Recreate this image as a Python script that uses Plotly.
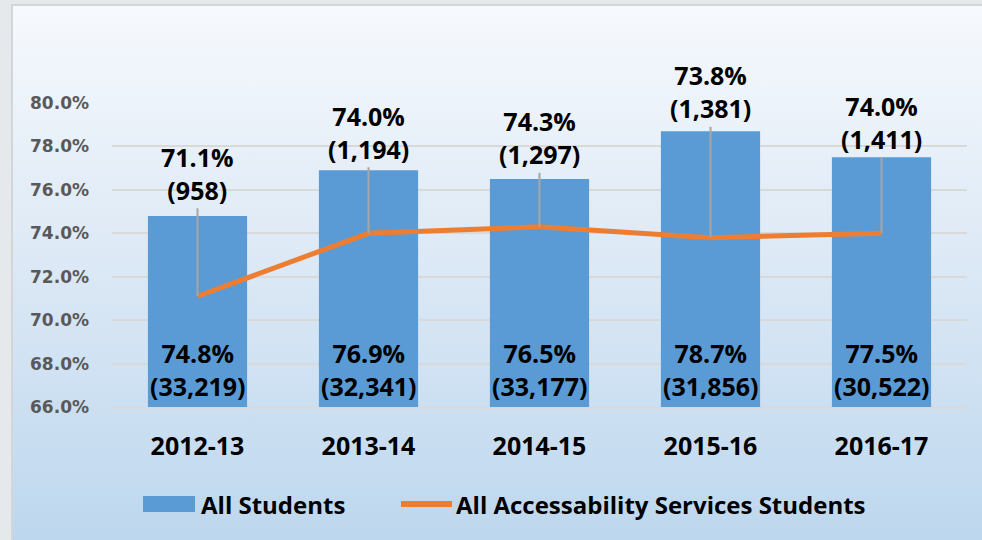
import base64
import plotly.graph_objects as go

years = ["2012-13", "2013-14", "2014-15", "2015-16", "2016-17"]
all_pct = [74.8, 76.9, 76.5, 78.7, 77.5]
all_n = ["33,219", "32,341", "33,177", "31,856", "30,522"]
acc_pct = [71.1, 74.0, 74.3, 73.8, 74.0]
acc_n = ["958", "1,194", "1,297", "1,381", "1,411"]
y_ticks = [66, 68, 70, 72, 74, 76, 78, 80]
series_names = ["All Students", "All Accessability Services Students"]

W, H = 982, 540
L, R, T, B = 112, 15, 103, 133
PW, PH = W - L - R, H - T - B

BLUE = "#5b9bd5"
ORANGE = "#ed7d31"


def px(x):
    return (x - L) / PW


def py(y):
    return (H - B - y) / PH


svg = f'''<svg xmlns="http://www.w3.org/2000/svg" width="{W}" height="{H}" viewBox="0 0 {W} {H}" preserveAspectRatio="none">
<defs><linearGradient id="g" x1="0" y1="0" x2="0" y2="1">
<stop offset="0" stop-color="#f6f9fd"/><stop offset="0.5" stop-color="#dbe8f5"/><stop offset="1" stop-color="#bdd7ee"/>
</linearGradient></defs>
<rect x="0" y="0" width="{W}" height="{H}" fill="#e6e9ec"/>
<rect x="11" y="4" width="{W-11}" height="{H-4}" fill="#d3d6d9"/>
<rect x="13" y="6" width="{W-13}" height="{H-6}" fill="url(#g)"/>
</svg>'''
src = "data:image/svg+xml;base64," + base64.b64encode(svg.encode()).decode()

fig = go.Figure()
fig.add_trace(go.Bar(
    x=years, y=all_pct, name=series_names[0], marker_color=BLUE,
    marker_line_width=0, width=0.58, hoverinfo="skip", showlegend=False,
))
fig.add_trace(go.Scatter(
    x=years, y=acc_pct, name=series_names[1],
    mode="lines", line=dict(color=ORANGE, width=5), hoverinfo="skip",
    showlegend=False,
))

label_font = dict(family="Open Sans", size=25, color="#000000", weight="bold")
legend_font = dict(family="Open Sans", size=24, color="#000000", weight="bold")
offsets = [-123, -101, -89, -146, -111]
annotations = []
for yr, p, n, ay in zip(years, acc_pct, acc_n, offsets):
    annotations.append(dict(
        x=yr, y=p, xref="x", yref="y", text=f"{p:.1f}%<br>({n})",
        showarrow=True, arrowhead=0, arrowwidth=2, arrowcolor="#a6a6a6",
        ax=0, ay=ay, standoff=0, startstandoff=0, font=label_font,
    ))
for yr, p, n in zip(years, all_pct, all_n):
    annotations.append(dict(
        x=yr, y=y_ticks[0], xref="x", yref="y", text=f"{p:.1f}%<br>({n})",
        showarrow=False, yanchor="bottom", yshift=2, font=label_font,
    ))

# custom legend (wide swatches as in the reference)
annotations.append(dict(x=px(199), y=py(504), xref="paper", yref="paper",
                        text=series_names[0], showarrow=False, xanchor="left",
                        yanchor="middle", font=legend_font))
annotations.append(dict(x=px(454), y=py(504), xref="paper", yref="paper",
                        text=series_names[1], showarrow=False, xanchor="left",
                        yanchor="middle", font=legend_font))
shapes = [
    dict(type="rect", xref="paper", yref="paper", x0=px(143), x1=px(195),
         y0=py(512), y1=py(496), fillcolor=BLUE, line_width=0),
    dict(type="line", xref="paper", yref="paper", x0=px(401), x1=px(452),
         y0=py(504), y1=py(504), line=dict(color=ORANGE, width=6)),
]

fig.update_layout(
    width=W, height=H,
    margin=dict(l=L, r=R, t=T, b=B),
    paper_bgcolor="rgba(0,0,0,0)", plot_bgcolor="rgba(0,0,0,0)",
    images=[dict(source=src, xref="paper", yref="paper",
                 x=-L / PW, y=1 + T / PH, sizex=W / PW, sizey=H / PH,
                 xanchor="left", yanchor="top", sizing="stretch", layer="below")],
    showlegend=False,
    annotations=annotations,
    shapes=shapes,
    bargap=0.42,
)
fig.update_yaxes(
    range=[y_ticks[0], y_ticks[-1]], tickvals=y_ticks,
    ticktext=[f"{v:.1f}%" for v in y_ticks],
    showgrid=True, gridcolor="#d9d9d9", gridwidth=2,
    zeroline=False, showline=False, ticks="",
    tickfont=dict(family="DejaVu Sans", size=17, color="#595959", weight="bold"),
    ticklabelstandoff=22,
)
fig.update_xaxes(
    showline=True, linecolor="#d9d9d9", linewidth=2, ticks="",
    tickfont=dict(family="Open Sans", size=25, color="#000000", weight="bold"),
    ticklabelstandoff=16,
)

fig.write_html("out.html")
